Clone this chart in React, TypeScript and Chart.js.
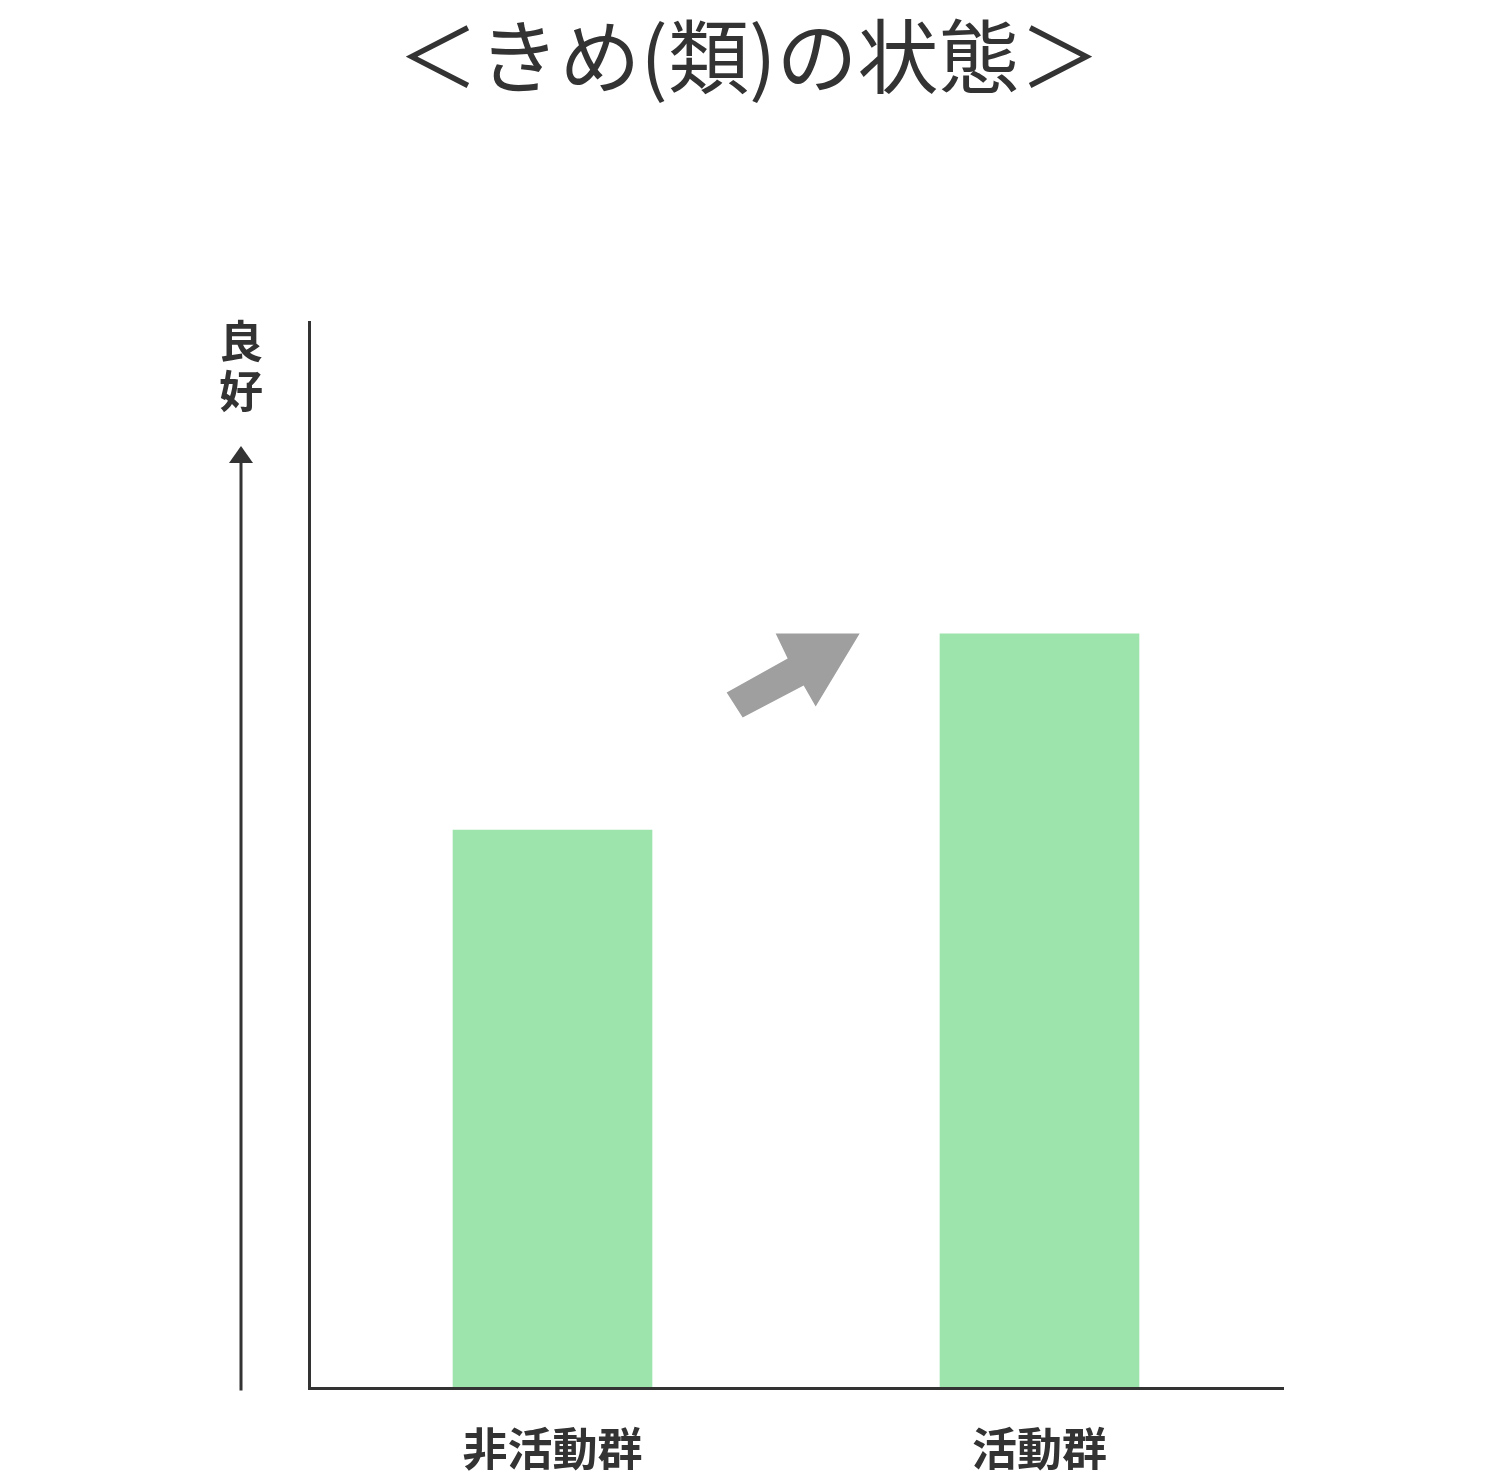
import React, { useEffect, useRef } from 'react';
import { Chart, registerables } from 'chart.js';

Chart.register(...registerables);

// data
const groups = ['非活動群', '活動群'];
const skinTexture = [52.4, 70.8];
const chartTitle = '＜きめ(類)の状態＞';
const axisLabel = ['良', '好'];

const DARK = '#333333';
const JP = "'Noto Sans CJK JP', 'Noto Sans', sans-serif";

// title, vertical "良好" label with its arrow, and the grey arrow between the bars
const decorations = {
  id: 'decorations',
  afterDraw(chart: any) {
    const { ctx, chartArea } = chart;
    ctx.save();

    ctx.fillStyle = DARK;
    ctx.textAlign = 'center';
    ctx.textBaseline = 'middle';
    ctx.font = `400 81px ${JP}`;
    ctx.fillText(chartTitle, chart.width / 2 - 1, 56);

    ctx.font = `700 44px ${JP}`;
    axisLabel.forEach((ch, i) => ctx.fillText(ch, 241, chartArea.top + 19 + i * 50));

    // up arrow left of the axis
    ctx.strokeStyle = DARK;
    ctx.lineWidth = 3;
    ctx.beginPath();
    ctx.moveTo(241, chartArea.bottom + 2);
    ctx.lineTo(241, 460);
    ctx.stroke();
    ctx.beginPath();
    ctx.moveTo(229, 463);
    ctx.lineTo(253, 463);
    ctx.lineTo(241, 446);
    ctx.closePath();
    ctx.fill();

    // grey arrow pointing at the taller bar
    const bar = chart.getDatasetMeta(0).data[1];
    if (bar) {
      const tx = bar.x - bar.width / 2 - 80;
      const ty = bar.y;
      const pts = [[-133, 59], [-72, 25], [-84, 0], [0, 0], [-44, 73], [-56, 52], [-117, 84]];
      ctx.fillStyle = '#9e9f9e';
      ctx.beginPath();
      pts.forEach(([dx, dy], i) => (i ? ctx.lineTo(tx + dx, ty + dy) : ctx.moveTo(tx + dx, ty + dy)));
      ctx.closePath();
      ctx.fill();
    }
    ctx.restore();
  },
};

function BarChart() {
  const chartRef = useRef<HTMLCanvasElement>(null);
  useEffect(() => {
    if (!chartRef.current) return;
    const chart = new Chart(chartRef.current, {
      type: 'bar',
      data: {
        labels: groups,
        datasets: [
          {
            data: skinTexture,
            backgroundColor: '#9de3ac',
            categoryPercentage: 1,
            barPercentage: 0.41,
          },
        ],
      },
      options: {
        animation: false,
        responsive: true,
        maintainAspectRatio: false,
        layout: { padding: { top: 322, left: 309, right: 217, bottom: -37 } },
        plugins: { legend: { display: false }, title: { display: false }, tooltip: { enabled: false } },
        scales: {
          x: {
            grid: { display: false, drawTicks: false },
            border: { display: true, color: DARK, width: 3, z: 1 },
            ticks: {
              color: DARK,
              padding: 36,
              font: { family: JP, size: 45, weight: 'bold', lineHeight: 1.1 },
            },
          },
          y: {
            min: 0,
            max: 100,
            grid: { display: false, drawTicks: false },
            border: { display: true, color: DARK, width: 3, z: 1 },
            ticks: { display: false },
          },
        },
      },
      plugins: [decorations],
    });
    return () => chart.destroy();
  }, []);
  return <canvas ref={chartRef} />;
}

export default function App() {
  useEffect(() => {
    document.body.style.margin = '0';
    document.body.style.background = '#ffffff';
  }, []);
  return (
    <div style={{ width: 1500, height: 1473, position: 'relative', background: '#fff' }}>
      <BarChart />
    </div>
  );
}
